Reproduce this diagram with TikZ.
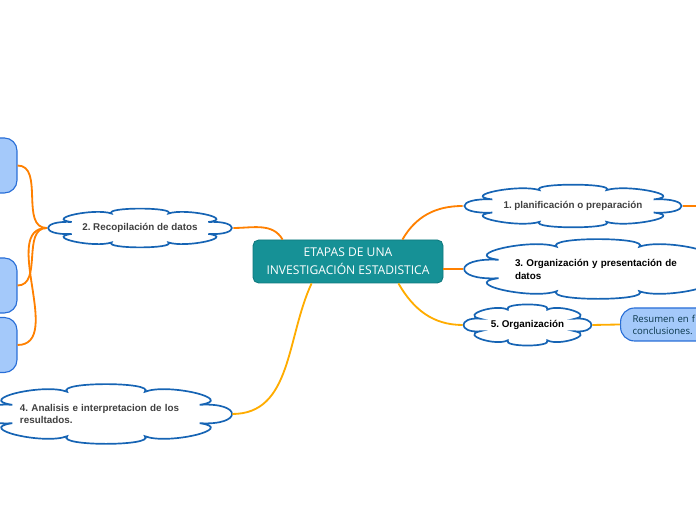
\documentclass[tikz,border=0pt]{standalone}
\usepackage{fontspec}
\setmainfont{Liberation Sans}
\newfontfamily\titlefont{Open Sans}
\usetikzlibrary{shapes.geometric,calc}
\definecolor{tealtitle}{RGB}{22,145,150}
\definecolor{tealedge}{RGB}{14,120,125}
\definecolor{cloudblue}{RGB}{22,100,180}
\definecolor{leafblue}{RGB}{164,201,250}
\definecolor{leafedge}{RGB}{40,110,215}
\definecolor{linkorange}{RGB}{255,128,0}
\definecolor{linkyellow}{RGB}{255,172,0}
\definecolor{textgray}{RGB}{64,64,64}
\definecolor{notetext}{RGB}{10,55,75}

% cloud outline round a named node: node, x radius, y radius
\newcommand{\puffcloud}[3]{%
  \begin{scope}[shift={(#1.center)},xscale=#2,yscale=#3]
    \draw[draw=cloudblue,line width=1.2pt] (-22.5:0.78)
      \foreach \k in {0,...,7}{
        .. controls ({-20+45*\k}:1.12) and ({20+45*\k}:1.12) .. ({22.5+45*\k}:0.78)
      } -- cycle;
  \end{scope}}

\begin{document}
\frenchspacing
\begin{tikzpicture}[
  topic/.style={draw=tealedge,fill=tealtitle,rounded corners=4pt,
                minimum width=4.75cm,minimum height=1.075cm,
                align=center,text=white,line width=0.6pt,
                font=\titlefont\fontsize{8.6}{12.6}\selectfont},
  idea/.style={ellipse,inner sep=0pt,
               font=\fontsize{7}{9.2}\selectfont\bfseries,text=textgray},
  leaf/.style={draw=leafedge,fill=leafblue,rounded corners=9pt,
               minimum width=2.45cm,minimum height=1.375cm,line width=0.8pt},
  note/.style={draw=leafedge,fill=leafblue,rounded corners=0.35cm,
               minimum height=0.825cm,text width=2.6cm,inner xsep=0.3cm,
               align=left,line width=0.8pt,text=notetext,
               font=\titlefont\fontsize{6.8}{8.5}\selectfont},
  link/.style={draw=linkorange,line width=1.3pt},
  linky/.style={draw=linkyellow,line width=1.3pt}
]
\useasboundingbox (0,0) rectangle (17.4,13);

%% ── Nodes (absolute coordinates) ──
\node[topic] (title) at (8.7,6.4625) {ETAPAS DE UNA\\INVESTIGACIÓN ESTADISTICA};

\node[idea,minimum width=5.5cm,minimum height=1.0cm]
      (plan)     at (14.325,7.85)  {1. planificación o preparación};
\node[idea,minimum width=4.65cm,minimum height=0.95cm]
      (recop)    at (3.5,7.3)      {2. Recopilación de datos};
\node[idea,minimum width=6.75cm,minimum height=1.45cm,
      text width=4.15cm,align=left,text=black]
      (orgpres)  at (14.95,6.275)  {3. Organización y presentación de\\datos};
\node[idea,minimum width=6.3cm,minimum height=1.45cm,
      text width=4.3cm,align=left]
      (analisis) at (2.65,2.65)    {4. Analisis e interpretacion de los\\resultados.};
\node[idea,minimum width=3.225cm,minimum height=1.0cm,text=black]
      (org)      at (13.1875,4.875) {5. Organización};

\puffcloud{plan}{2.8}{0.55}
\puffcloud{recop}{2.37}{0.5}
\puffcloud{orgpres}{3.45}{0.77}
\puffcloud{analisis}{3.25}{0.77}
\puffcloud{org}{1.65}{0.53}

\node[note,anchor=west] (resumen) at (15.5,4.8875) {Resumen en f\\conclusiones.};

\node[leaf] (leafa) at (-0.8,8.8625) {};
\node[leaf] (leafb) at (-0.8,5.8625) {};
\node[leaf] (leafc) at (-0.8,4.375)  {};

\coordinate (planout) at (17.4,7.85);

%% ── Connectors from the title ──
\draw[link]  ([xshift=0.75cm]title.north west)  to[out=120,in=0]   (recop.east);
\draw[linky] ([xshift=1.475cm]title.south west) to[out=-115,in=0]  (analisis.east);
\draw[link]  ([xshift=-1.025cm]title.north east) to[out=60,in=180] (plan.west);
\draw[link]  (orgpres.west -| title.east) -- (orgpres.west);
\draw[linky] ([xshift=-1.125cm]title.south east) to[out=-60,in=180] (org.west);

%% ── Sub-branches ──
\draw[link]  (plan.east) -- (planout);
\draw[linky] (org.east) -- (resumen.west);
\draw[link]  (recop.west) to[out=180,in=0] (leafa.east);
\draw[link]  (recop.west) to[out=180,in=0] (leafb.east);
\draw[link]  (recop.west) to[out=180,in=0] (leafc.east);

\end{tikzpicture}
\end{document}
